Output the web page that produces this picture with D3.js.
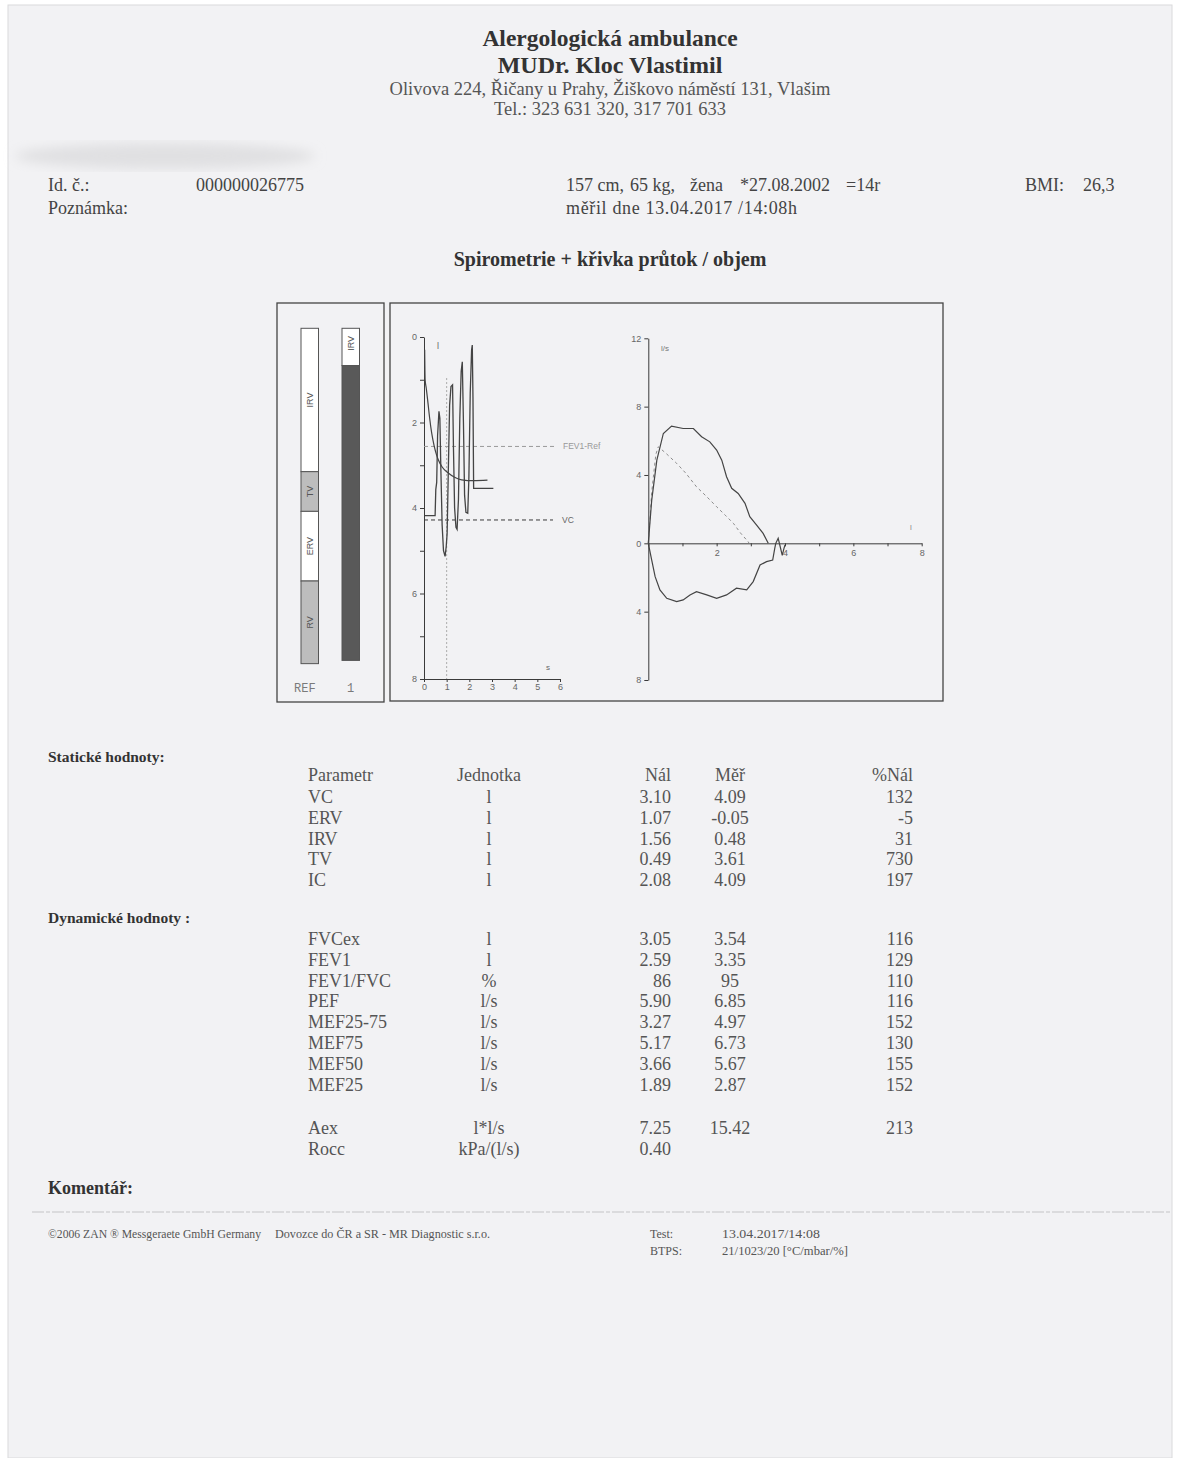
<!DOCTYPE html>
<html lang="cs">
<head>
<meta charset="UTF-8"/>
<title>Spirometrie + křivka průtok / objem</title>
<script src="https://d3js.org/d3.v7.min.js"></script>
<style>
  body { margin: 0; background: #ffffff; }
  .tick text { font-family: "Liberation Sans", Arial, sans-serif; font-size: 9px; fill: #666; }
  .tick line, .domain { stroke: #3a3a3a; }
</style>
</head>
<body>
<svg id="page"></svg>
<script>
// ---- lung volume bars (litres, listed top -> bottom) ----
const refSegNames = ["IRV", "TV", "ERV", "RV"];
const refSegValues = [1.77, 0.49, 0.86, 1.02];
const refSegFill = ["#ffffff", "#bdbdbd", "#ffffff", "#bdbdbd"];
const measSegNames = ["IRV", ""];
const measSegValues = [0.46, 3.64];
const measSegFill = ["#ffffff", "#595959"];

// ---- volume / time (t in s, volume in l, 0 at top) ----
const breathTrace = [[0.04,4.18],[0.49,4.18],[0.52,3.57],[0.56,3.4],[0.6,2.3],[0.66,1.74],[0.7,1.9],[0.74,3.0],
  [0.8,4.4],[0.86,5.0],[0.93,5.13],[0.98,4.9],[1.02,4.6],[1.07,3.2],[1.13,1.6],[1.19,1.16],[1.26,1.12],[1.3,2.6],
  [1.35,4.0],[1.41,4.45],[1.46,4.5],[1.52,3.8],[1.58,1.9],[1.64,0.8],[1.69,0.58],[1.74,2.0],[1.79,3.7],[1.85,4.1],
  [1.93,4.12],[1.98,3.3],[2.04,1.3],[2.1,0.3],[2.13,0.19],[2.16,1.4],[2.19,3.54],[3.06,3.54]];
const forcedTrace = [[0.03,0.3],[0.05,1.0],[0.1,1.2],[0.16,1.47],[0.25,1.9],[0.34,2.25],[0.45,2.55],[0.55,2.75],
  [0.63,2.87],[0.8,3.04],[1.07,3.18],[1.35,3.28],[1.66,3.34],[2.2,3.36],[2.8,3.35]];
const fev1Ref = 2.56;
const vcLine = 4.28;
const timeTicks = [0, 1, 2, 3, 4, 5, 6];
const volTicks = [0, 1, 2, 3, 4, 5, 6, 7, 8];

// ---- flow / volume (volume l, flow l/s) ----
const flowExp = [[0,0],[0.1,2.53],[0.25,4.87],[0.44,6.43],[0.68,6.86],[1.02,6.72],[1.32,6.72],[1.56,6.24],
  [1.8,5.94],[2.0,5.46],[2.15,4.87],[2.29,3.9],[2.44,3.22],[2.63,2.92],[2.83,2.34],[2.97,1.56],[3.17,1.07],
  [3.36,0.58],[3.51,0]];
const flowInsp = [[0,0],[0.1,-0.98],[0.2,-1.95],[0.34,-2.73],[0.54,-3.22],[0.83,-3.41],[1.02,-3.31],[1.22,-3.02],
  [1.41,-2.83],[1.71,-3.02],[2.0,-3.22],[2.29,-3.02],[2.58,-2.63],[2.88,-2.73],[3.07,-2.24],[3.27,-1.27],
  [3.46,-1.07],[3.64,-0.98],[3.7,-0.29],[3.73,0],[3.8,0.3],[3.86,-0.2],[3.92,-0.7],[3.97,-0.3],[4.0,-0.1]];
const flowRef = [[0,0],[0.1,3.0],[0.22,5.2],[0.29,5.65],[0.5,5.3],[0.83,4.68],[1.1,4.1],[1.41,3.31],[1.7,2.75],
  [2.0,2.14],[2.25,1.65],[2.49,1.17],[2.7,0.6],[2.92,0.1],[2.95,0]];
const fvTicksX = [0, 1, 2, 3, 4, 5, 6, 7, 8];
const fvTicksY = [-8, -4, 0, 4, 8, 12];

// ---- table ----
const staticParams = ["VC", "ERV", "IRV", "TV", "IC"];
const staticUnits = ["l", "l", "l", "l", "l"];
const staticPred = ["3.10", "1.07", "1.56", "0.49", "2.08"];
const staticMeas = ["4.09", "-0.05", "0.48", "3.61", "4.09"];
const staticPct = ["132", "-5", "31", "730", "197"];

const dynParams = ["FVCex", "FEV1", "FEV1/FVC", "PEF", "MEF25-75", "MEF75", "MEF50", "MEF25"];
const dynUnits = ["l", "l", "%", "l/s", "l/s", "l/s", "l/s", "l/s"];
const dynPred = ["3.05", "2.59", "86", "5.90", "3.27", "5.17", "3.66", "1.89"];
const dynMeas = ["3.54", "3.35", "95", "6.85", "4.97", "6.73", "5.67", "2.87"];
const dynPct = ["116", "129", "110", "116", "152", "130", "155", "152"];

const extraParams = ["Aex", "Rocc"];
const extraUnits = ["l*l/s", "kPa/(l/s)"];
const extraPred = ["7.25", "0.40"];
const extraMeas = ["15.42", ""];
const extraPct = ["213", ""];

const W = 1195, H = 1458;
const SERIF = "Liberation Serif, Times New Roman, serif";
const SANS = "Liberation Sans, Arial, sans-serif";
const svg = d3.select("#page").attr("width", W).attr("height", H).attr("font-family", SERIF);

// scanned sheet
svg.append("rect").attr("x", 8).attr("y", 5).attr("width", 1164).attr("height", H - 5)
  .attr("fill", "#f2f2f4").attr("stroke", "#dadadc");

const defs = svg.append("defs");
defs.append("filter").attr("id", "smear").append("feGaussianBlur").attr("stdDeviation", 6);
svg.append("ellipse").attr("cx", 165).attr("cy", 156).attr("rx", 150).attr("ry", 13)
  .attr("fill", "#e0e0e2").attr("filter", "url(#smear)");

// ---- header ----
const head = svg.append("g").attr("text-anchor", "middle").attr("fill", "#333");
head.append("text").attr("x", 610).attr("y", 46).attr("font-size", 23.5).attr("font-weight", "bold")
  .text("Alergologická ambulance");
head.append("text").attr("x", 610).attr("y", 73).attr("font-size", 24).attr("font-weight", "bold")
  .text("MUDr. Kloc Vlastimil");
head.append("text").attr("x", 610).attr("y", 95).attr("font-size", 18.5).attr("fill", "#555")
  .text("Olivova 224, Řičany u Prahy, Žiškovo náměstí 131, Vlašim");
head.append("text").attr("x", 610).attr("y", 115).attr("font-size", 18.5).attr("fill", "#555")
  .text("Tel.: 323 631 320, 317 701 633");

const info = svg.append("g").attr("font-size", 18).attr("fill", "#444");
info.append("text").attr("x", 48).attr("y", 191).text("Id. č.:");
info.append("text").attr("x", 196).attr("y", 191).text("000000026775");
info.append("text").attr("x", 566).attr("y", 191).text("157 cm,");
info.append("text").attr("x", 630).attr("y", 191).text("65 kg,");
info.append("text").attr("x", 690).attr("y", 191).text("žena");
info.append("text").attr("x", 740).attr("y", 191).text("*27.08.2002");
info.append("text").attr("x", 846).attr("y", 191).text("=14r");
info.append("text").attr("x", 1025).attr("y", 191).text("BMI:");
info.append("text").attr("x", 1083).attr("y", 191).text("26,3");
info.append("text").attr("x", 48).attr("y", 214).text("Poznámka:");
info.append("text").attr("x", 566).attr("y", 214).attr("textLength", 231).attr("lengthAdjust", "spacing")
  .text("měřil dne 13.04.2017 /14:08h");

svg.append("text").attr("x", 610).attr("y", 266).attr("text-anchor", "middle")
  .attr("font-size", 20).attr("font-weight", "bold").attr("fill", "#333")
  .text("Spirometrie + křivka průtok / objem");

// ---- chart frames ----
svg.append("rect").attr("x", 277).attr("y", 303).attr("width", 107).attr("height", 399)
  .attr("fill", "none").attr("stroke", "#444").attr("stroke-width", 1.3);
svg.append("rect").attr("x", 390).attr("y", 303).attr("width", 553).attr("height", 398)
  .attr("fill", "none").attr("stroke", "#444").attr("stroke-width", 1.3);

// ---- lung volume bars ----
const barY = d3.scaleLinear().domain([0, 1]).range([328.3, 409.3]);
function drawBar(x, w, names, values, fills) {
  const g = svg.append("g");
  let acc = 0;
  values.forEach((v, i) => {
    const y0 = barY(acc), y1 = barY(acc + v);
    g.append("rect").attr("x", x).attr("y", y0).attr("width", w).attr("height", y1 - y0)
      .attr("fill", fills[i]).attr("stroke", "#555").attr("stroke-width", 1);
    if (names[i]) {
      const cy = (y0 + y1) / 2;
      const ty = names[i] === "IRV" && v < 1 ? y0 + 15 : cy;
      g.append("text").attr("transform", `translate(${x + w / 2 + 3},${ty}) rotate(-90)`)
        .attr("text-anchor", "middle").attr("font-family", SANS)
        .attr("font-size", 9).attr("fill", "#555").text(names[i]);
    }
    acc += v;
  });
}
drawBar(301, 17.5, refSegNames, refSegValues, refSegFill);
drawBar(342, 17.5, measSegNames, measSegValues, measSegFill);
svg.append("text").attr("x", 294).attr("y", 692).attr("font-family", "Liberation Mono, monospace")
  .attr("font-size", 12).attr("fill", "#7a7a7a").text("REF");
svg.append("text").attr("x", 347).attr("y", 692).attr("font-family", "Liberation Mono, monospace")
  .attr("font-size", 12).attr("fill", "#7a7a7a").text("1");

// ---- volume / time chart ----
const xT = d3.scaleLinear().domain([0, 6]).range([424, 560]);
const yV = d3.scaleLinear().domain([0, 8]).range([337, 679]);
const vt = svg.append("g");

vt.append("g").attr("transform", `translate(${xT(0)},0)`)
  .call(d3.axisLeft(yV).tickValues(volTicks).tickSize(4).tickSizeOuter(0).tickPadding(3)
    .tickFormat(d => d % 2 === 0 ? d : ""));
vt.append("g").attr("transform", `translate(0,${yV(8)})`)
  .call(d3.axisBottom(xT).tickValues(timeTicks).tickSize(3).tickSizeOuter(0).tickPadding(2)
    .tickFormat(d3.format("d")));

vt.append("line").attr("x1", xT(0)).attr("x2", 555).attr("y1", yV(fev1Ref)).attr("y2", yV(fev1Ref))
  .attr("stroke", "#9a9a9a").attr("stroke-dasharray", "4,3");
vt.append("text").attr("x", 563).attr("y", yV(fev1Ref) + 3).attr("font-family", SANS)
  .attr("font-size", 8.5).attr("fill", "#999").text("FEV1-Ref");
vt.append("line").attr("x1", xT(0)).attr("x2", 553).attr("y1", yV(vcLine)).attr("y2", yV(vcLine))
  .attr("stroke", "#3a3a3a").attr("stroke-dasharray", "4,3");
vt.append("text").attr("x", 562).attr("y", yV(vcLine) + 3).attr("font-family", SANS)
  .attr("font-size", 8.5).attr("fill", "#666").text("VC");
vt.append("line").attr("x1", xT(1)).attr("x2", xT(1)).attr("y1", yV(0.96)).attr("y2", yV(8))
  .attr("stroke", "#aaa").attr("stroke-dasharray", "2,2");

const lineVT = d3.line().x(d => xT(d[0])).y(d => yV(d[1]));
vt.append("path").datum(breathTrace).attr("d", lineVT).attr("fill", "none")
  .attr("stroke", "#444").attr("stroke-width", 1.3);
vt.append("path").datum(forcedTrace).attr("d", lineVT.curve(d3.curveMonotoneX)).attr("fill", "none")
  .attr("stroke", "#444").attr("stroke-width", 1.2);

vt.append("text").attr("x", 437).attr("y", 349).attr("font-family", SANS)
  .attr("font-size", 9).attr("fill", "#666").text("l");
vt.append("text").attr("x", 546).attr("y", 670).attr("font-family", SANS)
  .attr("font-size", 8).attr("fill", "#666").text("s");

// ---- flow / volume chart ----
const xF = d3.scaleLinear().domain([0, 8]).range([648.3, 921.7]);
const yF = d3.scaleLinear().domain([-8, 12]).range([680, 338.3]);
const fv = svg.append("g");

fv.append("g").attr("transform", `translate(${xF(0)},0)`)
  .call(d3.axisLeft(yF).tickValues(fvTicksY).tickSize(4).tickSizeOuter(0).tickPadding(3)
    .tickFormat(d => Math.abs(d)));
fv.append("g").attr("transform", `translate(0,${yF(0)})`)
  .call(d3.axisBottom(xF).tickValues(fvTicksX).tickSize(3).tickSizeOuter(0).tickPadding(3)
    .tickFormat(d => d > 0 && d % 2 === 0 ? d : ""));

const lineFV = d3.line().x(d => xF(d[0])).y(d => yF(d[1]));
fv.append("path").datum(flowRef).attr("d", lineFV).attr("fill", "none")
  .attr("stroke", "#8c8c8c").attr("stroke-width", 1).attr("stroke-dasharray", "3,3");
fv.append("path").datum(flowExp).attr("d", lineFV).attr("fill", "none")
  .attr("stroke", "#444").attr("stroke-width", 1.2);
fv.append("path").datum(flowInsp).attr("d", lineFV).attr("fill", "none")
  .attr("stroke", "#444").attr("stroke-width", 1.2);

fv.append("text").attr("x", 661).attr("y", 351).attr("font-family", SANS)
  .attr("font-size", 8).attr("fill", "#777").text("l/s");
fv.append("text").attr("x", 910).attr("y", 530).attr("font-family", SANS)
  .attr("font-size", 8).attr("fill", "#888").text("l");

// ---- table ----
const tbl = svg.append("g").attr("font-size", 18).attr("fill", "#555");
const col = { param: 308, unit: 489, pred: 671, meas: 730, pct: 913 };

function row(y, p, u, a, b, c) {
  tbl.append("text").attr("x", col.param).attr("y", y).text(p);
  tbl.append("text").attr("x", col.unit).attr("y", y).attr("text-anchor", "middle").text(u);
  tbl.append("text").attr("x", col.pred).attr("y", y).attr("text-anchor", "end").text(a);
  tbl.append("text").attr("x", col.meas).attr("y", y).attr("text-anchor", "middle").text(b);
  tbl.append("text").attr("x", col.pct).attr("y", y).attr("text-anchor", "end").text(c);
}

const sect = svg.append("g").attr("font-weight", "bold").attr("fill", "#333");
sect.append("text").attr("x", 48).attr("y", 762).attr("font-size", 15.5).text("Statické hodnoty:");
sect.append("text").attr("x", 48).attr("y", 923).attr("font-size", 15.5).text("Dynamické hodnoty :");
sect.append("text").attr("x", 48).attr("y", 1194).attr("font-size", 18).text("Komentář:");

row(781, "Parametr", "Jednotka", "Nál", "Měř", "%Nál");
const rowStep = 20.8;
staticParams.forEach((p, i) => row(803 + i * rowStep, p, staticUnits[i], staticPred[i], staticMeas[i], staticPct[i]));
dynParams.forEach((p, i) => row(945 + i * rowStep, p, dynUnits[i], dynPred[i], dynMeas[i], dynPct[i]));
extraParams.forEach((p, i) => row(1134 + i * rowStep, p, extraUnits[i], extraPred[i], extraMeas[i], extraPct[i]));

// ---- footer ----
svg.append("line").attr("x1", 32).attr("x2", 1172).attr("y1", 1212).attr("y2", 1212)
  .attr("stroke", "#c4c4c6").attr("stroke-dasharray", "12,2,4,2");
const foot = svg.append("g").attr("font-size", 12).attr("fill", "#555");
foot.append("text").attr("x", 48).attr("y", 1238).attr("textLength", 213).attr("lengthAdjust", "spacingAndGlyphs")
  .text("©2006 ZAN ® Messgeraete GmbH Germany");
foot.append("text").attr("x", 275).attr("y", 1238).attr("textLength", 215).attr("lengthAdjust", "spacingAndGlyphs")
  .text("Dovozce do ČR a SR - MR Diagnostic s.r.o.");
foot.append("text").attr("x", 650).attr("y", 1238).text("Test:");
foot.append("text").attr("x", 722).attr("y", 1238).attr("textLength", 98).attr("lengthAdjust", "spacingAndGlyphs")
  .text("13.04.2017/14:08");
foot.append("text").attr("x", 650).attr("y", 1255).text("BTPS:");
foot.append("text").attr("x", 722).attr("y", 1255).attr("textLength", 126).attr("lengthAdjust", "spacingAndGlyphs")
  .text("21/1023/20 [°C/mbar/%]");
</script>
</body>
</html>
